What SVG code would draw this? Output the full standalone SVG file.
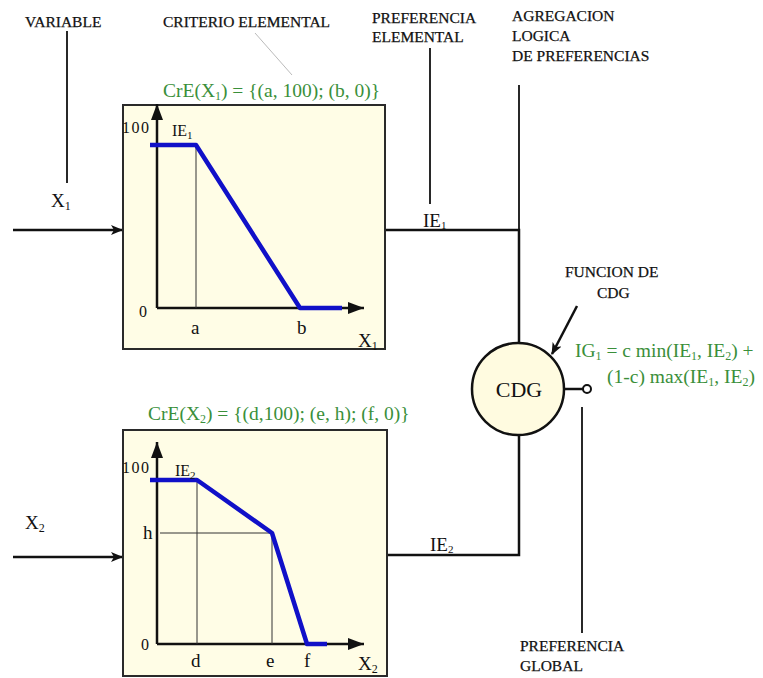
<svg xmlns="http://www.w3.org/2000/svg" width="763" height="678" viewBox="0 0 763 678">
<defs>
<marker id="arr" viewBox="0 0 12 10" refX="11" refY="5" markerWidth="12" markerHeight="10" markerUnits="userSpaceOnUse" orient="auto">
<path d="M0,0 L12,5 L0,10 L3,5 Z" fill="#111"/>
</marker>
<marker id="ax" viewBox="0 0 16 12" refX="16" refY="6" markerWidth="16" markerHeight="12" markerUnits="userSpaceOnUse" orient="auto">
<path d="M0,0 L16,6 L0,12 Z" fill="#111"/>
</marker>
</defs>
<style>
.lbl{font-family:"Liberation Serif",serif;font-size:15.5px;fill:#111;stroke:#111;stroke-width:0.25}
.t{font-family:"Liberation Serif",serif;font-size:19px;fill:#111}
.g{font-family:"Liberation Serif",serif;font-size:19.5px;fill:#3a8f3a}
.s{font-family:"Liberation Serif",serif;font-size:16px;fill:#111}
.big{font-family:"Liberation Serif",serif;font-size:22px;fill:#111}
.box{fill:#fffde6;stroke:#2a2a2a;stroke-width:2}
.ax{stroke:#111;stroke-width:2.5;fill:none}
.thin{stroke:#333;stroke-width:1;fill:none}
.blue{stroke:#1010c8;stroke-width:4.5;fill:none;stroke-linejoin:round}
.ln{stroke:#111;stroke-width:2.5;fill:none}
.ln1{stroke:#111;stroke-width:1.8;fill:none}
</style>

<g id="labels">
<text class="lbl" x="25" y="27">VARIABLE</text>
<text class="lbl" x="163" y="27">CRITERIO ELEMENTAL</text>
<text class="lbl" x="372" y="23">PREFERENCIA</text>
<text class="lbl" x="372" y="42">ELEMENTAL</text>
<text class="lbl" x="512" y="21">AGREGACION</text>
<text class="lbl" x="512" y="41">LOGICA</text>
<text class="lbl" x="512" y="61">DE PREFERENCIAS</text>
<text class="lbl" x="565" y="277">FUNCION DE</text>
<text class="lbl" x="597" y="298">CDG</text>
<text class="lbl" x="520" y="651">PREFERENCIA</text>
<text class="lbl" x="520" y="671">GLOBAL</text>
</g>

<g id="connectors">
<line class="ln1" x1="67" y1="31" x2="67" y2="183"/>
<line x1="255" y1="33" x2="292" y2="75" stroke="#bbb" stroke-width="1"/>
<line class="ln1" x1="430" y1="48" x2="430" y2="204"/>
<line class="ln1" x1="519" y1="85" x2="519" y2="230"/>
<line class="ln" x1="13" y1="230" x2="122" y2="230" marker-end="url(#arr)"/>
<line class="ln" x1="13" y1="557" x2="122" y2="557" marker-end="url(#arr)"/>
<polyline class="ln" points="385,230 519,230 519,343"/>
<polyline class="ln" points="387,555 519,555 519,435"/>
<line class="ln" x1="577" y1="306" x2="552" y2="354" marker-end="url(#arr)"/>
<line class="ln" x1="564" y1="389" x2="583" y2="389"/>
<circle cx="587" cy="389" r="4" fill="#fff" stroke="#111" stroke-width="2"/>
<line class="ln1" x1="582" y1="407" x2="582" y2="633"/>
</g>

<g id="box1">
<rect class="box" x="123" y="105" width="262" height="244"/>
<line class="ax" x1="157" y1="308" x2="157" y2="104" marker-end="url(#ax)"/>
<line class="ax" x1="157" y1="308" x2="364" y2="308" marker-end="url(#ax)"/>
<line class="thin" x1="196" y1="145" x2="196" y2="308"/>
<polyline class="blue" points="150,145 196,145 300,308 342,308"/>
<text class="s" x="122" y="133" textLength="27">100</text>
<text class="s" x="172" y="136">IE<tspan font-size="11" dy="3">1</tspan></text>
<text class="s" x="139" y="317">0</text>
<text class="t" x="191" y="334">a</text>
<text class="t" x="297" y="334">b</text>
<text class="t" x="358" y="347">X<tspan font-size="12" dy="3">1</tspan></text>
</g>
<text class="g" x="163" y="97">CrE(X<tspan font-size="12" dy="3">1</tspan><tspan dy="-3">) = {(a, 100); (b, 0)}</tspan></text>
<text class="t" x="51" y="207">X<tspan font-size="12" dy="3">1</tspan></text>
<text class="t" x="423" y="227">IE<tspan font-size="11" dy="2">1</tspan></text>

<g id="box2">
<rect class="box" x="123" y="430" width="264" height="246"/>
<line class="ax" x1="157" y1="644" x2="157" y2="442" marker-end="url(#ax)"/>
<line class="ax" x1="157" y1="644" x2="364" y2="644" marker-end="url(#ax)"/>
<line class="thin" x1="197" y1="480" x2="197" y2="644"/>
<line class="thin" x1="272" y1="533" x2="272" y2="644"/>
<line class="thin" x1="160" y1="533" x2="272" y2="533"/>
<polyline class="blue" points="150,480 197,480 272,533 307,644 327,644"/>
<text class="s" x="122" y="473" textLength="27">100</text>
<text class="s" x="175" y="476">IE<tspan font-size="11" dy="3">2</tspan></text>
<text class="t" x="143" y="539">h</text>
<text class="s" x="141" y="650">0</text>
<text class="t" x="191" y="667">d</text>
<text class="t" x="266" y="667">e</text>
<text class="t" x="304" y="667">f</text>
<text class="t" x="358" y="670">X<tspan font-size="12" dy="3">2</tspan></text>
</g>
<text class="g" x="148" y="420">CrE(X<tspan font-size="12" dy="3">2</tspan><tspan dy="-3">) = {(d,100); (e, h); (f, 0)}</tspan></text>
<text class="t" x="25" y="529">X<tspan font-size="12" dy="3">2</tspan></text>
<text class="t" x="430" y="551">IE<tspan font-size="11" dy="2">2</tspan></text>

<g id="cdg">
<circle cx="518" cy="389" r="46" fill="#fffbe0" stroke="#111" stroke-width="2.5"/>
<text class="big" x="519" y="397" text-anchor="middle">CDG</text>
</g>
<text class="g" x="575" y="357">IG<tspan font-size="12" dy="3">1</tspan><tspan dy="-3"> = c min(IE</tspan><tspan font-size="12" dy="3">1</tspan><tspan dy="-3">, IE</tspan><tspan font-size="12" dy="3">2</tspan><tspan dy="-3">) +</tspan></text>
<text class="g" x="607" y="383">(1-c) max(IE<tspan font-size="12" dy="3">1</tspan><tspan dy="-3">, IE</tspan><tspan font-size="12" dy="3">2</tspan><tspan dy="-3">)</tspan></text>
</svg>
